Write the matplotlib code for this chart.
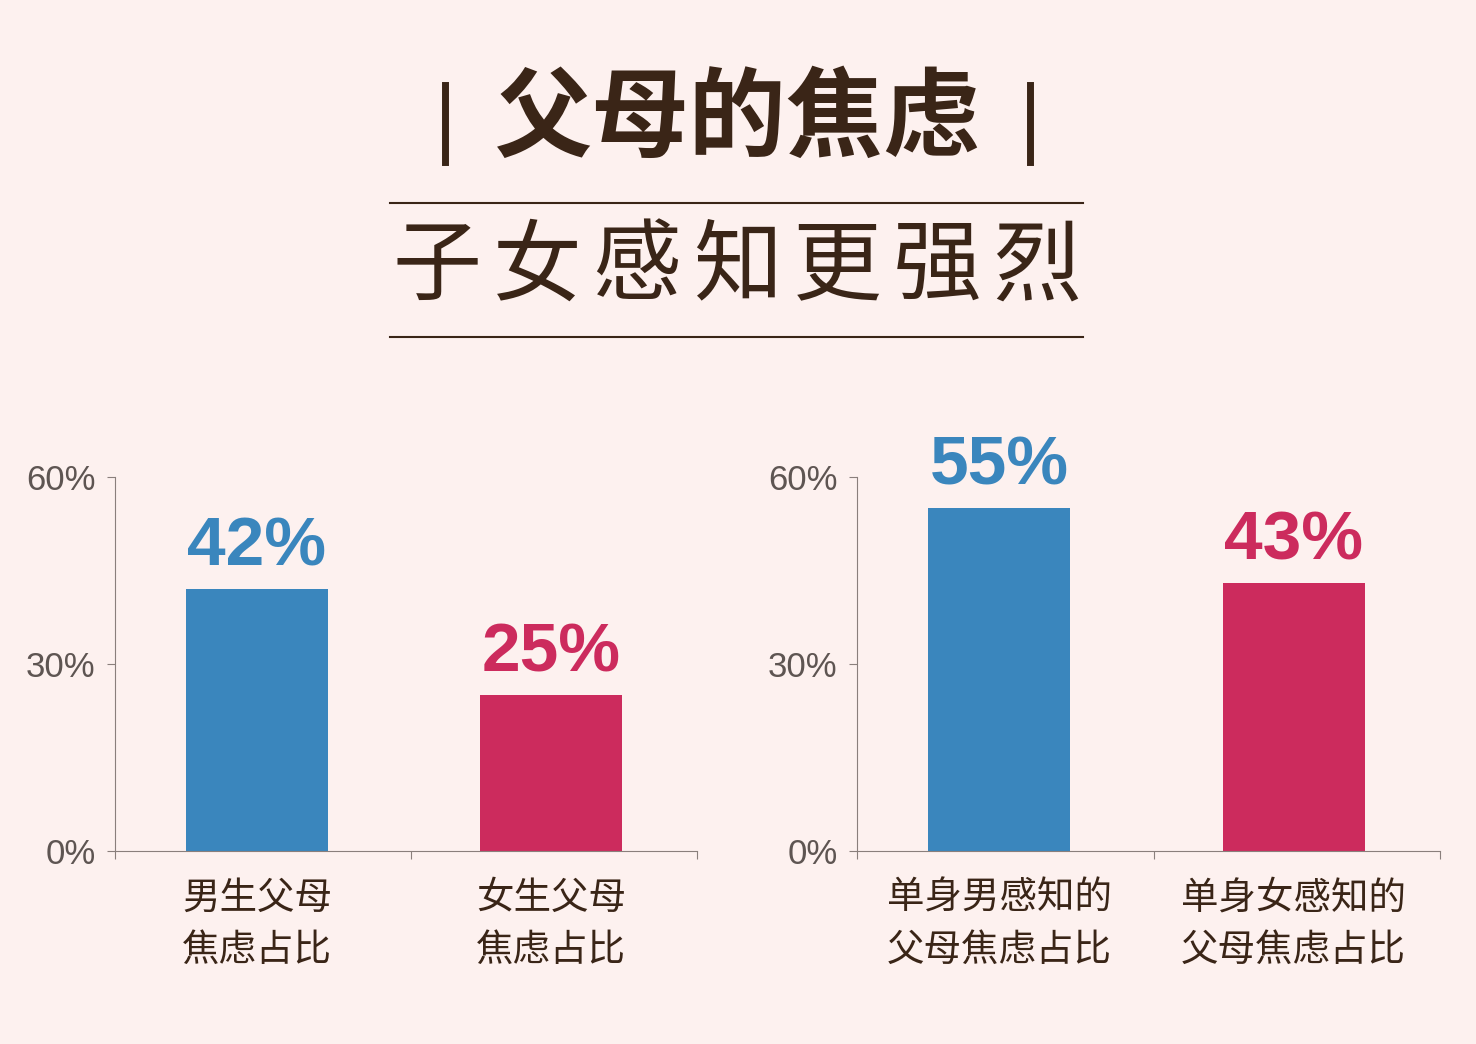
import matplotlib.pyplot as plt

plt.rcParams['font.family'] = ['Noto Sans CJK SC', 'DejaVu Sans']

left_labels = ['男生父母\n焦虑占比', '女生父母\n焦虑占比']
left_values = [42, 25]
right_labels = ['单身男感知的\n父母焦虑占比', '单身女感知的\n父母焦虑占比']
right_values = [55, 43]
yticks = [0, 30, 60]
bar_colors = ['#3a86bd', '#cc2b5d']
subtitle = '子女感知更强烈'

bg = '#fdf1ef'
dark = '#3a2517'
axis_gray = '#8a7f7c'

fig = plt.figure(figsize=(14.76, 10.44), dpi=100, facecolor=bg)

# title block
fig.text(738 / 1476, 1 - 120 / 1044, '父母的焦虑', ha='center', va='center', fontsize=70,
         fontweight='black', color=dark)
for xb in [445, 1030]:
    fig.add_artist(plt.Line2D([xb / 1476, xb / 1476], [1 - 85 / 1044, 1 - 162 / 1044],
                              color=dark, lw=5))
for i, ch in enumerate(subtitle):
    fig.text((437 + i * 100) / 1476, 1 - 268 / 1044, ch, ha='center', va='center',
             fontsize=64, fontweight='light', color=dark)
for y in [1 - 203 / 1044, 1 - 337 / 1044]:
    fig.add_artist(plt.Line2D([390 / 1476, 1083 / 1476], [y, y], color=dark, lw=1.5))


def draw_panel(rect, labels, values):
    ax = fig.add_axes(rect)
    ax.set_facecolor(bg)
    x = range(len(values))
    ax.bar(x, values, width=0.483, color=bar_colors)
    for xi, v, c in zip(x, values, bar_colors):
        ax.text(xi, v + 1.5, f'{v}%', ha='center', va='bottom', fontsize=50,
                fontweight='bold', color=c, family='Liberation Sans')
    ax.set_xlim(-0.483, 1.497)
    ax.set_ylim(0, 60)
    ax.set_yticks(yticks)
    ax.set_yticklabels([f'{t}%' for t in yticks], fontsize=25, color='#5e5552',
                       family='Liberation Sans')
    ax.set_xticks([-0.483, 0.525, 1.497], minor=False)
    ax.set_xticklabels([])
    ax.set_xticks(list(x), minor=True)
    ax.set_xticklabels(labels, minor=True, fontsize=27, color=dark, linespacing=1.45)
    ax.tick_params(axis='x', which='minor', length=0, pad=20)
    ax.tick_params(axis='x', which='major', length=6, color=axis_gray)
    ax.tick_params(axis='y', length=6, color=axis_gray, pad=8)
    for s in ['top', 'right']:
        ax.spines[s].set_visible(False)
    for s in ['left', 'bottom']:
        ax.spines[s].set_color(axis_gray)
    return ax


draw_panel([115 / 1476, 0.185, 582 / 1476, 0.358], left_labels, left_values)
draw_panel([857 / 1476, 0.185, 583 / 1476, 0.358], right_labels, right_values)

fig.savefig('out.png', dpi=100, facecolor=bg)
